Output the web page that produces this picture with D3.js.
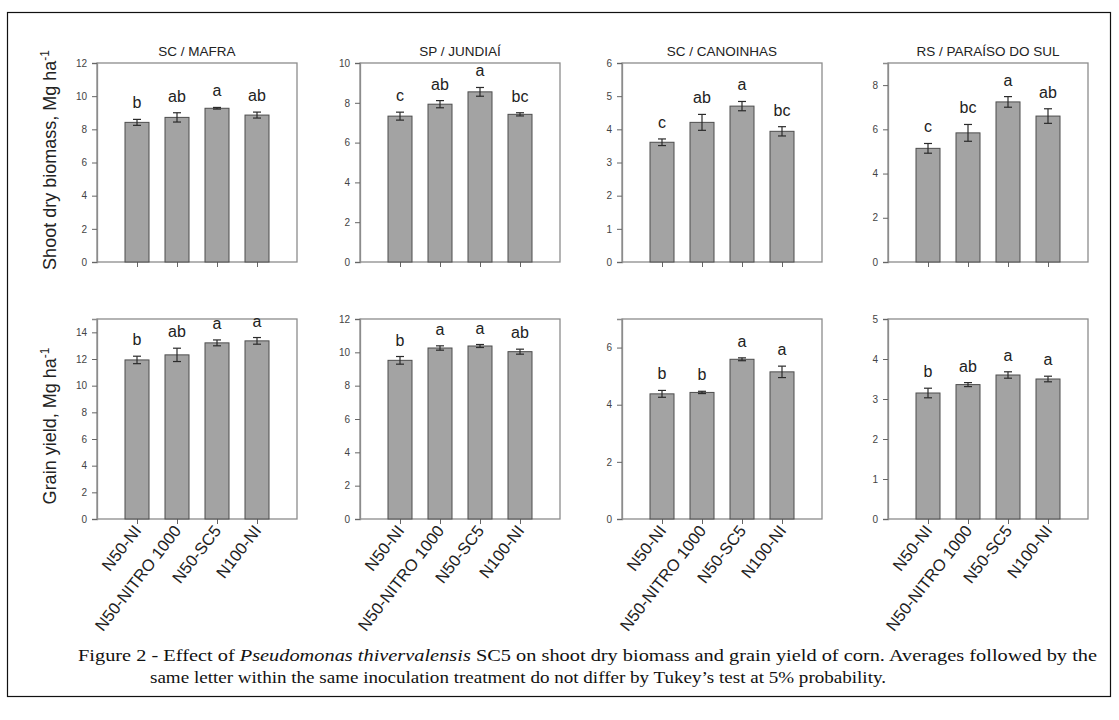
<!DOCTYPE html>
<html>
<head>
<meta charset="utf-8">
<script src="https://d3js.org/d3.v7.min.js"></script>
<style>
  body { margin: 0; background: #fff; }
  svg { display: block; font-family: "Liberation Sans", Arial, sans-serif; }
</style>
</head>
<body>
<svg id="chart" width="1119" height="720"></svg>
<script>
// treatments and sites
const categories = ["N50-NI", "N50-NITRO 1000", "N50-SC5", "N100-NI"];
const sites = ["SC / MAFRA", "SP / JUNDIAÍ", "SC / CANOINHAS", "RS / PARAÍSO DO SUL"];

// shoot dry biomass (Mg ha-1), one array per site
const biomassMafra = [8.42, 8.72, 9.27, 8.86];
const biomassJundiai = [7.33, 7.93, 8.55, 7.42];
const biomassCanoinhas = [3.61, 4.21, 4.70, 3.94];
const biomassParaiso = [5.14, 5.84, 7.24, 6.60];
const biomassErrMafra = [0.18, 0.28, 0.05, 0.18];
const biomassErrJundiai = [0.20, 0.18, 0.22, 0.08];
const biomassErrCanoinhas = [0.10, 0.24, 0.14, 0.14];
const biomassErrParaiso = [0.22, 0.38, 0.24, 0.33];
const biomassLetters = [["b", "ab", "a", "ab"], ["c", "ab", "a", "bc"], ["c", "ab", "a", "bc"], ["c", "bc", "a", "ab"]];
const biomassMax = [12, 10, 6, 9];
const biomassTicks = [[0, 2, 4, 6, 8, 10, 12], [0, 2, 4, 6, 8, 10], [0, 1, 2, 3, 4, 5, 6], [0, 2, 4, 6, 8]];

// grain yield (Mg ha-1)
const yieldMafra = [11.93, 12.31, 13.21, 13.36];
const yieldJundiai = [9.52, 10.26, 10.38, 10.04];
const yieldCanoinhas = [4.38, 4.43, 5.59, 5.15];
const yieldParaiso = [3.15, 3.36, 3.60, 3.50];
const yieldErrMafra = [0.28, 0.50, 0.22, 0.25];
const yieldErrJundiai = [0.23, 0.13, 0.09, 0.15];
const yieldErrCanoinhas = [0.12, 0.04, 0.05, 0.20];
const yieldErrParaiso = [0.12, 0.05, 0.08, 0.07];
const yieldLetters = [["b", "ab", "a", "a"], ["b", "a", "a", "ab"], ["b", "b", "a", "a"], ["b", "ab", "a", "a"]];
const yieldMax = [15, 12, 7, 5];
const yieldTicks = [[0, 2, 4, 6, 8, 10, 12, 14], [0, 2, 4, 6, 8, 10, 12], [0, 2, 4, 6], [0, 1, 2, 3, 4, 5]];

const svg = d3.select("#chart");

// outer frame
svg.append("rect")
  .attr("x", 7.5).attr("y", 12.5)
  .attr("width", 1103).attr("height", 684)
  .attr("fill", "none").attr("stroke", "#111").attr("stroke-width", 1.2);

const panelLeft = [97, 360, 622, 888];
const panelW = 200;

const rows = [
  { top: 63, bottom: 262, values: [biomassMafra, biomassJundiai, biomassCanoinhas, biomassParaiso],
    errs: [biomassErrMafra, biomassErrJundiai, biomassErrCanoinhas, biomassErrParaiso],
    letters: biomassLetters, max: biomassMax, ticks: biomassTicks, titles: true, labels: false },
  { top: 319, bottom: 519, values: [yieldMafra, yieldJundiai, yieldCanoinhas, yieldParaiso],
    errs: [yieldErrMafra, yieldErrJundiai, yieldErrCanoinhas, yieldErrParaiso],
    letters: yieldLetters, max: yieldMax, ticks: yieldTicks, titles: false, labels: true }
];

const frameColor = "#8c8c8c";

rows.forEach(function (row) {
  for (let p = 0; p < 4; p++) {
    const x0 = panelLeft[p];
    const x = d3.scalePoint().domain(categories).range([x0, x0 + panelW]).padding(1);
    const y = d3.scaleLinear().domain([0, row.max[p]]).range([row.bottom, row.top]);
    const bw = x.step() * 0.6;
    const g = svg.append("g");

    // panel box
    g.append("rect")
      .attr("x", x0).attr("y", row.top)
      .attr("width", panelW).attr("height", row.bottom - row.top)
      .attr("fill", "none").attr("stroke", frameColor).attr("stroke-width", 1.3);

    // y axis
    const ya = g.append("g")
      .attr("transform", `translate(${x0},0)`)
      .call(d3.axisLeft(y).tickValues(row.ticks[p]).tickSize(5).tickPadding(5).tickFormat(d3.format("d")));
    ya.select(".domain").attr("stroke", frameColor).attr("stroke-width", 1.3);
    ya.selectAll(".tick line").attr("stroke", "#666");
    ya.selectAll(".tick text").attr("fill", "#444").style("font-size", "10px");

    // x axis
    const xa = g.append("g")
      .attr("transform", `translate(0,${row.bottom})`)
      .call(d3.axisBottom(x).tickSize(5).tickFormat(""));
    xa.select(".domain").remove();
    xa.selectAll(".tick line").attr("stroke", "#666");

    const data = categories.map((c, i) => ({ c: c, v: row.values[p][i], e: row.errs[p][i], l: row.letters[p][i] }));

    // bars
    g.selectAll("rect.bar").data(data).join("rect")
      .attr("class", "bar")
      .attr("x", d => x(d.c) - bw / 2)
      .attr("y", d => y(d.v))
      .attr("width", bw)
      .attr("height", d => y(0) - y(d.v))
      .attr("fill", "#a3a3a3")
      .attr("stroke", "#4d4d4d")
      .attr("stroke-width", 1);

    // error bars
    const eg = g.selectAll("g.err").data(data).join("g").attr("class", "err")
      .attr("stroke", "#2b2b2b").attr("stroke-width", 1.2);
    eg.append("line")
      .attr("x1", d => x(d.c)).attr("x2", d => x(d.c))
      .attr("y1", d => y(d.v + d.e)).attr("y2", d => y(d.v - d.e));
    eg.append("line")
      .attr("x1", d => x(d.c) - 4).attr("x2", d => x(d.c) + 4)
      .attr("y1", d => y(d.v + d.e)).attr("y2", d => y(d.v + d.e));
    eg.append("line")
      .attr("x1", d => x(d.c) - 4).attr("x2", d => x(d.c) + 4)
      .attr("y1", d => y(d.v - d.e)).attr("y2", d => y(d.v - d.e));

    // letters
    g.selectAll("text.let").data(data).join("text")
      .attr("class", "let")
      .attr("x", d => x(d.c))
      .attr("y", d => y(d.v + d.e) - 11)
      .attr("text-anchor", "middle")
      .attr("fill", "#222")
      .style("font-size", "16px")
      .text(d => d.l);

    if (row.titles) {
      g.append("text")
        .attr("x", x0 + panelW / 2)
        .attr("y", row.top - 7)
        .attr("text-anchor", "middle")
        .attr("fill", "#222")
        .style("font-size", "13.5px")
        .text(sites[p]);
    }

    if (row.labels) {
      g.selectAll("text.xl").data(categories).join("text")
        .attr("class", "xl")
        .attr("text-anchor", "end")
        .attr("fill", "#222")
        .style("font-size", "16.5px")
        .attr("transform", d => `translate(${x(d) + 5},${row.bottom + 12}) rotate(-52)`)
        .text(d => d);
    }
  }
});

// y axis titles
function yTitle(label, cy) {
  const t = svg.append("text")
    .attr("transform", `translate(56,${cy}) rotate(-90)`)
    .attr("text-anchor", "middle")
    .attr("fill", "#222")
    .style("font-size", "18px");
  t.append("tspan").text(label + ", Mg ha");
  t.append("tspan").attr("dy", -7).style("font-size", "12px").text("-1");
}
yTitle("Shoot dry biomass", 160);
yTitle("Grain yield", 426);

// caption
const cap = svg.append("text")
  .attr("x", 78).attr("y", 661)
  .attr("textLength", 1019).attr("lengthAdjust", "spacingAndGlyphs")
  .style("font-family", "'Liberation Serif', 'Times New Roman', serif")
  .style("font-size", "17px")
  .attr("fill", "#111");
cap.append("tspan").text("Figure 2 - Effect of ");
cap.append("tspan").style("font-style", "italic").text("Pseudomonas thivervalensis");
cap.append("tspan").text(" SC5 on shoot dry biomass and grain yield of corn. Averages followed by the");

svg.append("text")
  .attr("x", 150).attr("y", 683)
  .attr("textLength", 736).attr("lengthAdjust", "spacingAndGlyphs")
  .style("font-family", "'Liberation Serif', 'Times New Roman', serif")
  .style("font-size", "17px")
  .attr("fill", "#111")
  .text("same letter within the same inoculation treatment do not differ by Tukey’s test at 5% probability.");
</script>
</body>
</html>
